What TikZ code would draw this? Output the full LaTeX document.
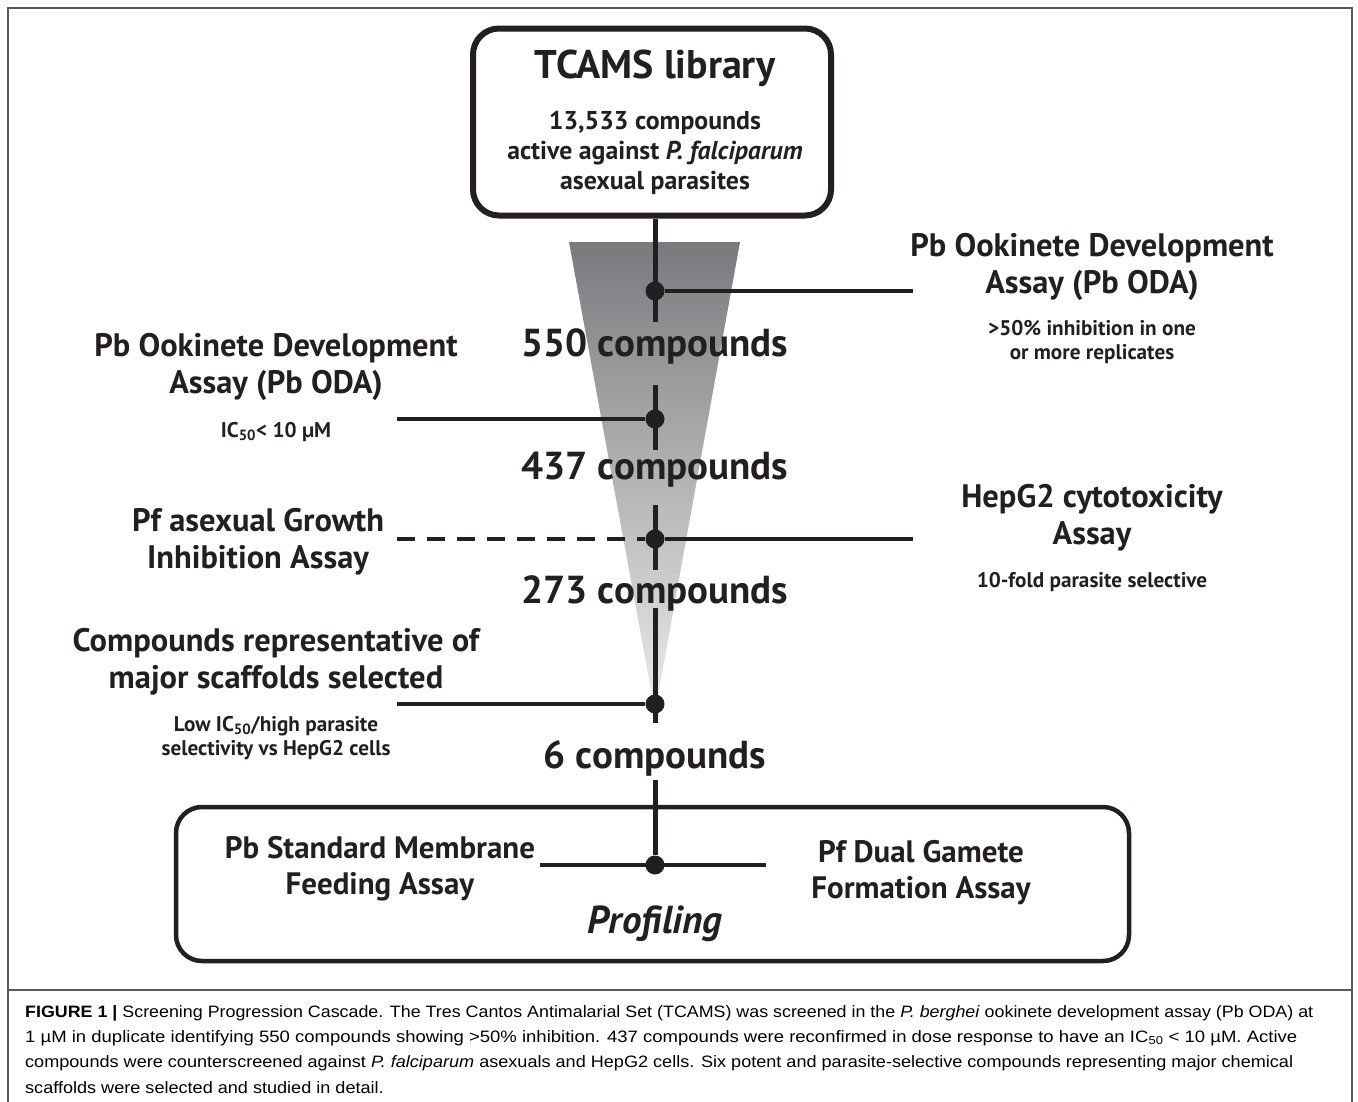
\documentclass[tikz,border=0pt]{standalone}
\usepackage{fontspec}
\setmainfont{PT Sans}
\newfontfamily\capfont{Liberation Sans}
\usepackage{graphicx}
\definecolor{ink}{HTML}{231F20}
\definecolor{captext}{HTML}{3A3A3A}
\definecolor{framegray}{HTML}{5A5A5A}
\definecolor{wedgetop}{RGB}{122,122,126}
\definecolor{wedgebot}{RGB}{236,236,238}
\newsavebox\capboxA
\newsavebox\capboxB
\newsavebox\capboxC
\newsavebox\capboxD
\newlength\capwd
\newcommand\capsize{\capfont\fontsize{16.5}{20}\selectfont}
\begin{document}
\sbox\capboxA{\capsize\textbf{FIGURE 1 |} Screening Progression Cascade. The Tres Cantos Antimalarial Set (TCAMS) was screened in the \textit{P. berghei} ookinete development assay (Pb ODA) at}%
\sbox\capboxB{\capsize 1 µM in duplicate identifying 550 compounds showing >50\% inhibition. 437 compounds were reconfirmed in dose response to have an IC\textsubscript{50} < 10 µM. Active}%
\sbox\capboxC{\capsize compounds were counterscreened against \textit{P. falciparum} asexuals and HepG2 cells. Six potent and parasite-selective compounds representing major chemical}%
\sbox\capboxD{\capsize scaffolds were selected and studied in detail.}%
\setlength\capwd{\wd\capboxA}\pgfmathsetmacro\capfA{1288/\capwd}%
\setlength\capwd{\wd\capboxB}\pgfmathsetmacro\capfB{1272/\capwd}%
\setlength\capwd{\wd\capboxC}\pgfmathsetmacro\capfC{1268/\capwd}%
\begin{tikzpicture}[x=1pt,y=-1pt,
  title/.style={font=\bfseries\fontsize{40}{46}\selectfont, inner sep=0pt, text=ink},
  sub/.style={font=\bfseries\fontsize{25.8}{30}\selectfont, align=center, inner sep=0pt, text=ink},
  lbl/.style={font=\bfseries\fontsize{32.5}{37}\selectfont, align=center, inner sep=0pt, text=ink},
  note/.style={font=\bfseries\fontsize{21.2}{24.5}\selectfont, align=center, inner sep=0pt, text=ink},
  count/.style={font=\bfseries\fontsize{39}{42}\selectfont, inner sep=0pt, text=ink},
  narrow/.style={font=\bfseries\fontsize{31}{36}\selectfont, align=center, inner sep=0pt, text=ink},
  capnode/.style={anchor=west, inner sep=0pt, text=captext},
  stem/.style={line width=5pt, draw=ink},
  arm/.style={line width=4.5pt, draw=ink},
  dot/.style={circle, fill=ink, minimum size=19pt, inner sep=0pt},
  box/.style={draw=ink, rounded corners=26pt, fill=white},
]
\useasboundingbox (0,0) rectangle (1358,1101);
% frame
\draw[framegray, line width=1.5pt] (8,1115) -- (8,8) -- (1352,8) -- (1352,1115);
\draw[framegray, line width=1.2pt] (8,990) -- (1352,990);

% wedge
\shade[top color=wedgetop, bottom color=wedgebot] (569,242) -- (740,242) -- (655,712) -- cycle;

% top box
\node[box, line width=6pt, minimum width=358pt, minimum height=187pt] (lib) at (652,122) {};
\node[title] (libt) at (655,68) {TCAMS library};
\node[sub] (libs) at (655,153) {13,533 compounds\\active against \textit{P. falciparum}\\asexual parasites};

% profiling box
\node[box, line width=4.5pt, minimum width=953pt, minimum height=154pt] (prof) at (652.5,884) {};

% dots
\node[dot] (d1) at (655,291) {};
\node[dot] (d2) at (655,419) {};
\node[dot] (d3) at (655,539) {};
\node[dot] (d4) at (655,704) {};
\node[dot] (d5) at (655,865) {};

% stem segment ends
\coordinate (s1e) at (655,322);
\coordinate (s2b) at (655,385);
\coordinate (s2e) at (655,450);
\coordinate (s3b) at (655,505);
\coordinate (s3e) at (655,570);
\coordinate (s4b) at (655,608);
\coordinate (s4e) at (655,723);
\coordinate (s5b) at (655,780);

\draw[stem] (lib.south -| d1) -- (s1e);
\draw[stem] (s2b) -- (s2e);
\draw[stem] (s3b) -- (s3e);
\draw[stem] (s4b) -- (s4e);
\draw[stem] (s5b) -- (d5);

% arm ends
\coordinate (r1) at (913,291);
\coordinate (l2) at (397,419);
\coordinate (l3) at (397,539);
\coordinate (r3) at (913,539);
\coordinate (l4) at (397,704);
\coordinate (l5) at (540,865);
\coordinate (r5) at (766,865);

\draw[arm] (d1) -- (r1);
\draw[arm] (l2) -- (d2);
\draw[arm, dash pattern=on 18pt off 12pt] (l3) -- (d3);
\draw[arm] (d3) -- (r3);
\draw[arm] (l4) -- (d4);
\draw[arm] (l5) -- (r5);

% counts
\node[count] (c1) at (655,346) {550 compounds};
\node[count] (c2) at (655,470) {437 compounds};
\node[count] (c3) at (655,593) {273 compounds};
\node[count] (c4) at (655,758) {6 compounds};

% right labels
\node[lbl] (rl1) at (1092,267) {Pb Ookinete Development\\Assay (Pb ODA)};
\node[note] (rn1) at (1092,342) {>50\% inhibition in one\\or more replicates};
\node[lbl] (rl2) at (1092,518) {HepG2 cytotoxicity\\Assay};
\node[note] (rn2) at (1092,582) {10-fold parasite selective};

% left labels
\node[lbl] (ll1) at (276,367) {Pb Ookinete Development\\Assay (Pb ODA)};
\node[note] (ln1) at (276,432) {IC\textsubscript{50}< 10 µM};
\node[lbl] (ll2) at (258,542) {Pf asexual Growth\\Inhibition Assay};
\node[lbl] (ll3) at (276,662) {Compounds representative of\\major scaffolds selected};
\node[note] (ln3) at (276,738) {Low IC\textsubscript{50}/high parasite\\selectivity vs HepG2 cells};

% profiling labels
\node[narrow] (p1) at (380,869) {Pb Standard Membrane\\Feeding Assay};
\node[narrow] (p2) at (921,873) {Pf Dual Gamete\\Formation Assay};
\node[font=\bfseries\itshape\fontsize{39}{44}\selectfont, inner sep=0pt, text=ink] (p3) at (655,924) {Profiling};

% caption
\node[capnode] (cap1) at (25,1013) {\scalebox{\capfA}[1]{\usebox\capboxA}};
\node[capnode] (cap2) at (25,1038) {\scalebox{\capfB}[1]{\usebox\capboxB}};
\node[capnode] (cap3) at (25,1063) {\scalebox{\capfC}[1]{\usebox\capboxC}};
\node[capnode] (cap4) at (25,1088) {\scalebox{\capfC}[1]{\usebox\capboxD}};
\end{tikzpicture}
\end{document}
